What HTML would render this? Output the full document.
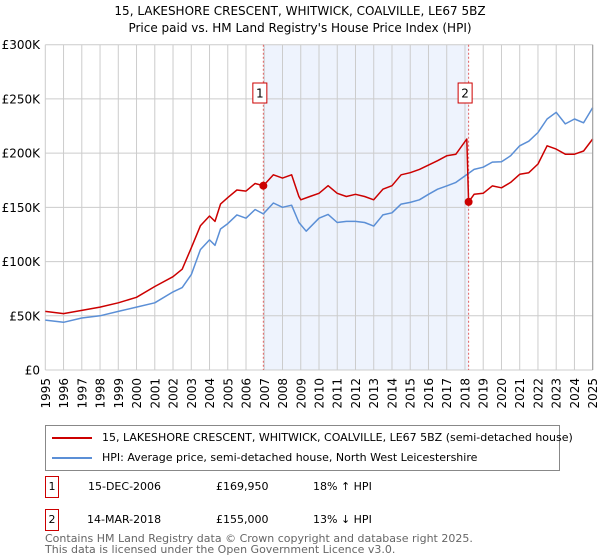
<!DOCTYPE html>
<html><head><meta charset="utf-8"><style>
body{margin:0;background:#fff;font-family:"DejaVu Sans","Liberation Sans",sans-serif;}
#wrap{position:relative;width:600px;height:560px;overflow:hidden}
.t{position:absolute;font-size:12px;color:#000}
</style></head><body><div id="wrap">
<svg id="c" width="600" height="560" style="position:absolute;left:0;top:0"></svg>
</div>
<script>
const years=[1995,1996,1997,1998,1999,2000,2001,2002,2003,2004,2005,2006,2007,2008,2009,2010,2011,2012,2013,2014,2015,2016,2017,2018,2019,2020,2021,2022,2023,2024,2025];
const yTicks=[0,50000,100000,150000,200000,250000,300000];
const yTickLabels=["£0","£50K","£100K","£150K","£200K","£250K","£300K"];
const hpiT=[1995,1996,1997,1998,1999,2000,2001,2002,2002.5,2003,2003.5,2004,2004.3,2004.6,2005,2005.5,2006,2006.5,2006.95,2007.5,2008,2008.5,2008.9,2009.3,2010,2010.5,2011,2011.5,2012,2012.5,2013,2013.5,2014,2014.5,2015,2015.5,2016,2016.5,2017,2017.5,2018,2018.5,2019,2019.5,2020,2020.5,2021,2021.5,2022,2022.5,2023,2023.5,2024,2024.5,2025];
const hpiV=[46,44,48,50,54,58,62,72,76,88,111,120,115,130,135,143,140,148,144,154,150,152,136,128,140,143.5,136,137,137,136,132.7,143,145,153,154.6,157,162,166.7,169.8,173,179,185,187,191.7,192,197.5,206.8,211,219,231.5,237.7,227,231.5,228,242];
const redT=[1995,1996,1997,1998,1999,2000,2001,2002,2002.5,2003,2003.5,2004,2004.3,2004.6,2005,2005.5,2006,2006.5,2006.95,2007.5,2008,2008.5,2008.9,2009,2009.5,2010,2010.5,2011,2011.5,2012,2012.5,2013,2013.5,2014,2014.5,2015,2015.5,2016,2016.5,2017,2017.5,2018.1,2018.2,2018.5,2019,2019.5,2020,2020.5,2021,2021.5,2022,2022.5,2023,2023.5,2024,2024.5,2025];
const redV=[54,52,55,58,62,67,77,86,93,112.7,133,142,137,153,159,166,165,172,170,180,177,180,160,157,160,163,170,163,160,162,160,157,166.7,170,180,182,185,189,193,197.5,199,213,155,162,163,169.8,168,173,180.5,182,190,206.8,203.7,199,199,202,213];
const saleT=[2006.95,2018.2];
const saleV=[169.95,155];
const saleLabels=["1","2"];
const NS="http://www.w3.org/2000/svg";
const svg=document.getElementById('c');
const X0=45.3,X1=592.7,Y0=370,Y1=44.7;
const xs=t=>X0+(t-1995)/30*(X1-X0);
const ys=v=>Y0-v/300000*(Y0-Y1);
function el(tag,a,p){const e=document.createElementNS(NS,tag);for(const k in a)e.setAttribute(k,a[k]);(p||svg).appendChild(e);return e;}
let e;
e=el('rect',{x:xs(saleT[0]),y:Y1,width:xs(saleT[1])-xs(saleT[0]),height:Y0-Y1,fill:'#eef3fd'});


years.forEach(y=>{
 e=el('line',{x1:xs(y),x2:xs(y),y1:Y1,y2:Y0,stroke:'#cccccc','stroke-width':1});
 
 
 e=el('text',{x:0,y:0,transform:`translate(${xs(y)+4.5},${378}) rotate(-90)`,'text-anchor':'end','font-size':12,fill:'#000'});
 e.textContent=y;
 
 
});
yTicks.forEach((v,i)=>{
 e=el('line',{x1:X0,x2:X1,y1:ys(v),y2:ys(v),stroke:'#cccccc','stroke-width':1});
 
 
 e=el('text',{x:40,y:ys(v)+4.5,'text-anchor':'end','font-size':12,fill:'#000'});
 e.textContent=yTickLabels[i];
 
 
});
saleT.forEach((t,i)=>{
 e=el('line',{x1:xs(t),x2:xs(t),y1:Y1,y2:Y0,stroke:'#e06060','stroke-width':1,'stroke-dasharray':'2,2'});
 
 
});
function path(T,V,col,name){
 let d=T.map((t,i)=>(i?'L':'M')+xs(t).toFixed(1)+','+ys(V[i]*1000).toFixed(1)).join('');
 e=el('path',{d:d,fill:'none',stroke:col,'stroke-width':1.5,'stroke-linejoin':'round'});
 
 
}
path(hpiT,hpiV,'#5b8fd6','hpi-line');
path(redT,redV,'#cc0000','property-price-line');
saleT.forEach((t,i)=>{
 e=el('circle',{cx:xs(t),cy:ys(saleV[i]*1000),r:4,fill:'#cc0000'});
 
 
 e=el('rect',{x:xs(t)-10.5,y:83,width:14,height:20,fill:'#fff',stroke:'#cc0000','stroke-width':1});
 
 
 e=el('text',{x:xs(t)-3.5,y:97.5,'text-anchor':'middle','font-size':12,fill:'#000'});
 e.textContent=saleLabels[i];
 
 
});
e=el('line',{x1:X1,x2:X1,y1:Y1,y2:Y0,stroke:'#999','stroke-width':1});


</script>
<div class="t" style="left:0;width:600px;top:3px;text-align:center;line-height:17px">15, LAKESHORE CRESCENT, WHITWICK, COALVILLE, LE67 5BZ<br>Price paid vs. HM Land Registry's House Price Index (HPI)</div>
<div style="position:absolute;left:45px;top:425px;width:515px;height:46px;border:1px solid #888;box-sizing:border-box;font-size:11px">
<div style="position:absolute;left:6px;top:5px;white-space:nowrap"><span style="display:inline-block;width:40px;height:2px;background:#cc0000;vertical-align:middle;margin-right:10px"></span>15, LAKESHORE CRESCENT, WHITWICK, COALVILLE, LE67 5BZ (semi-detached house)</div>
<div style="position:absolute;left:6px;top:25px;white-space:nowrap"><span style="display:inline-block;width:40px;height:2px;background:#5b8fd6;vertical-align:middle;margin-right:10px"></span>HPI: Average price, semi-detached house, North West Leicestershire</div>
</div>
<div style="position:absolute;left:45px;top:476px;font-size:11px;width:500px;height:22px">
<span style="position:absolute;left:0;top:0;width:12px;height:20px;border:1px solid #cc0000;text-align:center;line-height:20px">1</span>
<span style="position:absolute;left:43px;top:4px">15-DEC-2006</span><span style="position:absolute;left:171px;top:4px">£169,950</span><span style="position:absolute;left:268px;top:4px">18% ↑ HPI</span></div>
<div style="position:absolute;left:45px;top:509px;font-size:11px;width:500px;height:22px">
<span style="position:absolute;left:0;top:0;width:12px;height:20px;border:1px solid #cc0000;text-align:center;line-height:20px">2</span>
<span style="position:absolute;left:42px;top:4px">14-MAR-2018</span><span style="position:absolute;left:171px;top:4px">£155,000</span><span style="position:absolute;left:268px;top:4px">13% ↓ HPI</span></div>
<div style="position:absolute;left:45px;top:533px;font-size:11px;color:#666;line-height:11px">Contains HM Land Registry data © Crown copyright and database right 2025.<br>This data is licensed under the Open Government Licence v3.0.</div>
</body></html>
